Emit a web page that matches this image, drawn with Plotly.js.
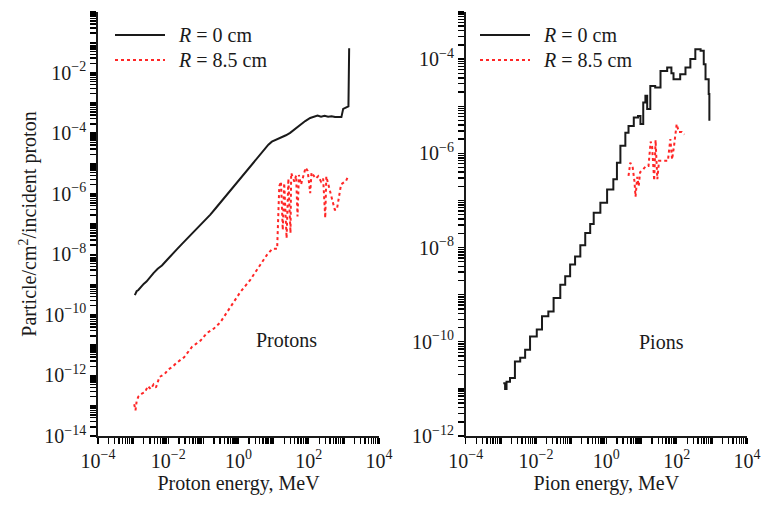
<!DOCTYPE html>
<html>
<head>
<meta charset="utf-8">
<script src="https://cdn.plot.ly/plotly-3.0.1.min.js"></script>
<style>html,body{margin:0;padding:0;background:#fff;}#chart{width:763px;height:506px;}</style>
</head>
<body>
<div id="chart"></div>
<script>
// Protons, R = 0 cm
const protonE0 = [1.12e-3,1.26e-3,1.41e-3,1.66e-3,2.0e-3,2.40e-3,3.02e-3,3.80e-3,5.01e-3,6.61e-3,9.33e-3,1.26e-2,1.78e-2,2.51e-2,3.55e-2,5.01e-2,7.94e-2,0.112,0.158,0.224,0.316,0.447,0.631,0.891,1.26,2.0,2.82,3.98,5.62,7.08,8.91,11.2,15.8,22.4,29.5,39.8,56.2,79.4,110,141,178,224,282,355,447,562,708,851,955,1122,1349,1413];
const protonF0 = [4.47e-10,6.03e-10,6.61e-10,8.51e-10,1.05e-9,1.26e-9,1.82e-9,2.40e-9,3.31e-9,4.27e-9,6.61e-9,9.33e-9,1.48e-8,2.24e-8,3.39e-8,5.01e-8,8.71e-8,1.32e-7,2.04e-7,3.31e-7,5.37e-7,8.51e-7,1.41e-6,2.34e-6,3.80e-6,7.59e-6,1.20e-5,1.95e-5,3.09e-5,4.17e-5,5.25e-5,5.89e-5,7.08e-5,8.51e-5,1.02e-4,1.35e-4,1.86e-4,2.51e-4,3.16e-4,3.39e-4,3.80e-4,3.47e-4,3.72e-4,3.47e-4,3.63e-4,3.39e-4,3.47e-4,3.39e-4,6.31e-4,7.08e-4,7.59e-4,6.31e-2];
// Protons, R = 8.5 cm
const protonE85 = [1.07e-3,1.17e-3,1.26e-3,1.41e-3,1.78e-3,2.19e-3,2.63e-3,3.16e-3,3.80e-3,4.47e-3,5.62e-3,7.94e-3,1e-2,1.32e-2,1.66e-2,2.24e-2,2.82e-2,3.55e-2,4.79e-2,6.31e-2,8.32e-2,0.126,0.2,0.302,0.447,0.708,1.12,2.14,3.55,6.46,9.12,12.6,14.5,16.2,18.2,20.0,23.4,26.3,30.2,31.6,38.9,43.7,47.9,52.5,60.3,69.2,81.3,93.3,110,120,132,158,186,224,257,295,316,380,457,550,631,832,1148,1318,1413];
const protonF85 = [1.12e-13,7.08e-14,1.41e-13,2.0e-13,2.51e-13,2.82e-13,4.47e-13,3.55e-13,5.01e-13,3.98e-13,8.91e-13,1.12e-12,1.58e-12,1.91e-12,2.51e-12,3.16e-12,3.98e-12,5.62e-12,8.91e-12,1.12e-11,1.41e-11,2.51e-11,3.55e-11,5.62e-11,1.12e-10,2.51e-10,5.62e-10,1.41e-9,3.55e-9,9.55e-9,1.51e-8,1.51e-8,1.78e-6,2.51e-6,6.31e-8,2.24e-6,3.39e-8,3.16e-6,5.01e-8,4.79e-6,2.51e-6,3.98e-6,1.78e-7,4.17e-6,2.0e-6,3.98e-6,7.24e-6,5.62e-6,1.05e-6,5.01e-6,4.17e-6,3.16e-6,3.80e-6,2.51e-6,3.16e-6,1.58e-7,3.72e-6,1.58e-6,7.41e-7,2.95e-7,2.95e-7,2.04e-6,2.63e-6,3.80e-6,3.80e-6];
// Pions, R = 0 cm
const pionE0 = [1.17e-3,1.32e-3,1.45e-3,1.82e-3,2.51e-3,3.55e-3,4.90e-3,6.76e-3,1.05e-2,1.48e-2,2.24e-2,3.16e-2,4.90e-2,6.76e-2,9.33e-2,0.129,0.182,0.251,0.347,0.437,0.676,1.05,1.58,2.0,2.51,3.47,4.27,6.03,7.94,9.33,11.2,12.9,14.5,17.8,24.5,34.7,53.7,70.8,81.3,126,178,245,339,479,589,661,813,851];
const pionF0 = [1.32e-11,1.0e-11,1.41e-11,1.70e-11,3.80e-11,4.57e-11,6.76e-11,1.29e-10,1.82e-10,3.47e-10,4.37e-10,8.51e-10,1.62e-9,2.45e-9,4.37e-9,6.46e-9,1.12e-8,2.04e-8,3.16e-8,5.50e-8,8.91e-8,1.70e-7,2.82e-7,6.31e-7,1.45e-6,2.75e-6,3.80e-6,5.75e-6,6.17e-6,4.17e-6,1.20e-5,1.66e-5,8.71e-6,2.69e-5,2.51e-5,5.62e-5,6.61e-5,5.01e-5,3.72e-5,4.79e-5,6.61e-5,1.0e-4,1.62e-4,1.51e-4,7.76e-5,3.72e-5,1.82e-5,4.90e-6];
// Pions, R = 8.5 cm
const pionE85 = [4.27,4.79,5.62,6.31,6.76,7.59,8.32,9.12,11.2,13.2,15.8,18.2,20.0,22.9,25.1,28.2,31.6,56.2,66.1,74.1,83.2,100,115,141,166];
const pionF85 = [3.31e-7,6.31e-7,5.01e-7,2.51e-7,1.20e-7,3.16e-7,2.0e-7,3.98e-7,4.57e-7,5.37e-7,5.37e-7,1.78e-6,1.41e-6,2.63e-7,1.91e-6,2.82e-7,6.92e-7,6.92e-7,2.0e-6,7.41e-7,1.35e-6,4.17e-6,2.82e-6,2.82e-6,2.51e-6];

const seriesNames = ['<i>R</i> = 0 cm', '<i>R</i> = 8.5 cm'];
// labelled decades per axis
const xLabelExp = [-4, -2, 0, 2, 4];
const yLeftLabelExp = [0, -2, -4, -6, -8, -10, -12, -14];
const yRightLabelExp = [-4, -6, -8, -10, -12];

// all tick positions on a log axis (decades and 2..9), labelled only at given decades
function logTicks(lo, hi, labelExp) {
  const vals = [], text = [];
  for (let k = lo; k <= hi; k++) {
    vals.push(Math.pow(10, k));
    text.push(labelExp.indexOf(k) >= 0 ? '10<sup>' + (k < 0 ? '−' + (-k) : k) + '</sup>' : '');
    if (k < hi) for (let d = 2; d <= 9; d++) { vals.push(d * Math.pow(10, k)); text.push(''); }
  }
  return {vals, text};
}

const FONT = 'Liberation Serif';
const BLACK = '#1a1a1a', RED = '#ff2626';

const traces = [
  {x: protonE0, y: protonF0, name: seriesNames[0], mode: 'lines', line: {color: BLACK, width: 2, shape: 'linear'}, xaxis: 'x', yaxis: 'y', showlegend: false},
  {x: protonE85, y: protonF85, name: seriesNames[1], mode: 'lines', line: {color: RED, width: 2, dash: 'dot', shape: 'linear'}, xaxis: 'x', yaxis: 'y', showlegend: false},
  {x: pionE0, y: pionF0, name: seriesNames[0], mode: 'lines', line: {color: BLACK, width: 2, shape: 'hv'}, xaxis: 'x2', yaxis: 'y2', showlegend: false},
  {x: pionE85, y: pionF85, name: seriesNames[1], mode: 'lines', line: {color: RED, width: 2, dash: 'dot', shape: 'linear'}, xaxis: 'x2', yaxis: 'y2', showlegend: false}
];

// plot area: x 98..747, y 12..436
const PW = 649, PH = 424, PL = 98, PB = 436;
const XD1 = [0, 281 / PW], XD2 = [367.7 / PW, 1];
const px = v => (v - PL) / PW, py = v => (PB - v) / PH;

function axis(type, range, domain, anchor, labelExp, title) {
  const t = logTicks(range[0], range[1], labelExp);
  const ax = {
    type: 'log', range: range, domain: domain, anchor: anchor,
    tickmode: 'array', tickvals: t.vals, ticktext: t.text,
    ticks: 'outside', ticklen: 6, tickwidth: 1.4, tickcolor: '#000',
    showline: true, linecolor: BLACK, linewidth: 1.8, showgrid: false, zeroline: false,
    tickfont: {family: FONT, size: 20, color: BLACK}
  };
  if (title) ax.title = {text: title, font: {family: FONT, size: 20, color: BLACK}, standoff: type === 'x' ? 1 : 2};
  return ax;
}

function legendItems(x0px, names) {
  const shapes = [], ann = [];
  const ys = [py(35), py(60)];
  const styles = [{color: BLACK, width: 2}, {color: RED, width: 2, dash: 'dot'}];
  for (let i = 0; i < names.length; i++) {
    shapes.push({type: 'line', xref: 'paper', yref: 'paper', x0: px(x0px), x1: px(x0px + 50), y0: ys[i], y1: ys[i], line: styles[i]});
    ann.push({text: names[i], xref: 'paper', yref: 'paper', x: px(x0px + 61), y: ys[i], xanchor: 'left', yanchor: 'middle', showarrow: false, font: {family: FONT, size: 20, color: BLACK}});
  }
  return {shapes, ann};
}
const legL = legendItems(115, seriesNames);
const legR = legendItems(480, seriesNames);

const layout = {
  width: 763, height: 506,
  margin: {l: 98, r: 16, t: 12, b: 70},
  paper_bgcolor: '#fff', plot_bgcolor: '#fff',
  font: {family: FONT, size: 20, color: BLACK},
  showlegend: false,
  xaxis: axis('x', [-4, 4], XD1, 'y', xLabelExp, 'Proton energy, MeV'),
  yaxis: axis('y', [-14, 0], [0, 1], 'x', yLeftLabelExp, 'Particle/cm<sup>2</sup>/incident proton'),
  xaxis2: axis('x', [-4, 4], XD2, 'y2', xLabelExp, 'Pion energy, MeV'),
  yaxis2: axis('y', [-12, -3], [0, 1], 'x2', yRightLabelExp, null),
  shapes: legL.shapes.concat(legR.shapes),
  annotations: [
    {text: 'Protons', xref: 'paper', yref: 'paper', x: px(286.5), y: py(340), xanchor: 'center', yanchor: 'middle', showarrow: false, font: {family: FONT, size: 20, color: BLACK}},
    {text: 'Pions', xref: 'paper', yref: 'paper', x: px(661), y: py(342), xanchor: 'center', yanchor: 'middle', showarrow: false, font: {family: FONT, size: 20, color: BLACK}}
  ].concat(legL.ann, legR.ann)
};

Plotly.newPlot('chart', traces, layout, {displayModeBar: false, staticPlot: true});
</script>
</body>
</html>
